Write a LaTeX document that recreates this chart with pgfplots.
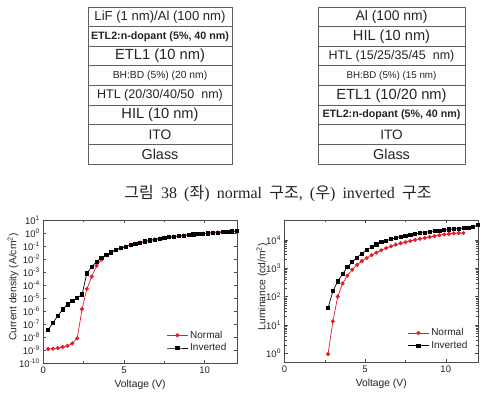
\documentclass[border=0pt]{standalone}
\usepackage{fontspec}
\setmainfont{Liberation Sans}
\newfontfamily\capserif{Liberation Serif}
\newfontfamily\cjk{Noto Sans CJK KR}
\usepackage{pgfplots}
\pgfplotsset{compat=1.18}
\definecolor{nred}{RGB}{232,28,36}
\definecolor{boxc}{RGB}{95,95,95}
\definecolor{txt}{RGB}{35,35,35}
\pgfplotsset{log number format basis/.code 2 args={#1\textsuperscript{\pgfmathprintnumber{#2}}}}
\pgfplotsset{myax/.style={
 scale only axis, anchor=south west,
 xmin=0, xmax=12, xtick={0,5,10}, minor xtick={2.5,7.5},
 axis line style={black!70, line width=0.6pt},
 tick style={black!70, line width=0.5pt},
 major tick length=3pt, minor tick length=2pt,
 ticklabel style={font=\fontsize{9.5}{11}\selectfont, text=txt},
 /pgf/number format/assume math mode=true,
 label style={font=\fontsize{10.3}{12}\selectfont, text=txt},
 xlabel={Voltage (V)},
 legend style={draw=none, fill=none, font=\fontsize{10}{12}\selectfont, anchor=north west, inner sep=0pt, row sep=0pt, cells={anchor=west}, text=txt},
 legend image code/.code={\draw[mark repeat=2,mark phase=2] plot coordinates {(0pt,0pt) (10.5pt,0pt) (21pt,0pt)};},
 every axis plot/.append style={line width=0.7pt},
}}
\newcommand\row[5]{%
 \draw[boxc, line width=0.8pt] (#1,{389-19.625*#3}) rectangle (#2,{389-19.625*(#3+1)});
 \node[txt, font=#4, inner sep=0pt] at ({(#1+#2)/2},{389-19.625*(#3+0.5)}) {#5};}

\begin{document}
\begin{tikzpicture}[x=1pt,y=1pt]
\path[use as bounding box] (0,0) rectangle (484,396);
% left stack
\row{88}{232}{0}{\fontsize{13.1}{15}\selectfont}{LiF (1 nm)/Al (100 nm)}
\row{88}{232}{1}{\fontsize{10.7}{12}\selectfont\bfseries}{ETL2:n-dopant (5\%, 40 nm)}
\row{88}{232}{2}{\fontsize{14.7}{16}\selectfont}{ETL1 (10 nm)}
\row{88}{232}{3}{\fontsize{10.3}{12}\selectfont\color{black!65}}{BH:BD (5\%) (20 nm)}
\row{88}{232}{4}{\fontsize{12.5}{14}\selectfont}{HTL (20/30/40/50 \ nm)}
\row{88}{232}{5}{\fontsize{14.6}{16}\selectfont}{HIL (10 nm)}
\row{88}{232}{6}{\fontsize{13.8}{16}\selectfont}{ITO}
\row{88}{232}{7}{\fontsize{14.4}{16}\selectfont}{Glass}
% right stack
\row{318}{465}{0}{\fontsize{13.9}{15}\selectfont}{Al (100 nm)}
\row{318}{465}{1}{\fontsize{14.6}{16}\selectfont}{HIL (10 nm)}
\row{318}{465}{2}{\fontsize{12.5}{14}\selectfont}{HTL (15/25/35/45 \ nm)}
\row{318}{465}{3}{\fontsize{9.8}{12}\selectfont\color{black!65}}{BH:BD (5\%) (15 nm)}
\row{318}{465}{4}{\fontsize{14.7}{16}\selectfont}{ETL1 (10/20 nm)}
\row{318}{465}{5}{\fontsize{10.7}{12}\selectfont\bfseries}{ETL2:n-dopant (5\%, 40 nm)}
\row{318}{465}{6}{\fontsize{13.6}{16}\selectfont}{ITO}
\row{318}{465}{7}{\fontsize{14.4}{16}\selectfont}{Glass}
% caption
\node[anchor=base, txt, font=\capserif\fontsize{16}{18}\selectfont, inner sep=0pt] at (278,197)
 {\spaceskip=0.45em\relax{\cjk 그림} 38 ({\cjk 좌}) normal {\cjk 구조}, ({\cjk 우}) inverted {\cjk 구조}};

\begin{semilogyaxis}[myax, at={(43.3pt,33pt)}, width=193.7pt, height=143pt,
 ymin=1e-10, ymax=10,
 ytick={1e-10,1e-9,1e-8,1e-7,1e-6,1e-5,1e-4,1e-3,1e-2,1e-1,1,10},
 yminorticks=false,
 ylabel={Current density (A/cm\textsuperscript{2})},
 ylabel style={at={(axis description cs:-0.156,0.53)}, anchor=center},
 legend style={at={(axis description cs:0.635,0.24)}}]
\addplot[nred, mark=*, mark size=1.7pt, mark options={fill=nred, draw=nred}] table {
x y
0.3 1.2e-9
0.6 1.25e-9
0.9 1.4e-9
1.2 1.7e-9
1.5 2.1e-9
1.8 3.2e-9
2.1 7.9e-9
2.4 1.4e-6
2.7 5e-5
3.0 4.4e-4
3.3 3.0e-3
3.6 9e-3
3.9 0.020
4.2 0.033
4.5 0.050
4.8 0.068
5.1 0.089
5.4 0.115
5.7 0.145
6.0 0.182
6.3 0.224
6.6 0.269
6.9 0.316
7.2 0.372
7.5 0.427
7.8 0.479
8.1 0.537
8.4 0.589
8.7 0.646
9.0 0.708
9.3 0.776
9.6 0.832
9.9 0.891
10.2 0.955
10.5 1.02
10.8 1.10
11.1 1.17
11.4 1.23
11.7 1.32
12.0 1.38
};
\addplot[black, mark=square*, mark size=1.6pt] table {
x y
0.3 3.5e-8
0.6 1.26e-7
0.9 4.2e-7
1.2 1.35e-6
1.5 3.2e-6
1.8 6.3e-6
2.1 1.0e-5
2.4 1.9e-5
2.7 8e-4
3.0 2.5e-3
3.3 6.3e-3
3.6 1.26e-2
3.9 0.021
4.2 0.033
4.5 0.050
4.8 0.068
5.1 0.089
5.4 0.115
5.7 0.145
6.0 0.182
6.3 0.224
6.6 0.269
6.9 0.316
7.2 0.372
7.5 0.427
7.8 0.479
8.1 0.537
8.4 0.589
8.7 0.646
9.0 0.708
9.3 0.776
9.6 0.832
9.9 0.891
10.2 0.955
10.5 1.02
10.8 1.10
11.1 1.17
11.4 1.23
11.7 1.32
12.0 1.38
};
\legend{Normal, Inverted}
\end{semilogyaxis}

\begin{semilogyaxis}[myax, at={(284.5pt,34pt)}, width=193.5pt, height=142pt,
 ymin=0.5, ymax=5e4,
 ytick={1,10,100,1000,10000},
 ylabel={Luminance (cd/m\textsuperscript{2})},
 ylabel style={at={(axis description cs:-0.116,0.53)}, anchor=center},
 legend style={at={(axis description cs:0.635,0.25)}}]
\addplot[nred, mark=*, mark size=1.7pt, mark options={fill=nred, draw=nred}] table {
x y
2.7 0.95
3.0 13.5
3.3 100
3.6 290
3.9 550
4.2 890
4.5 1320
4.8 1800
5.1 2300
5.4 2900
5.7 3550
6.0 4300
6.3 5100
6.6 5900
6.9 6800
7.2 7600
7.5 8300
7.8 9100
8.1 10000
8.4 10900
8.7 11700
9.0 12600
9.3 13500
9.6 14500
9.9 15500
10.2 16200
10.5 17000
10.8 17400
11.1 17400
};
\addplot[black, mark=square*, mark size=1.6pt] table {
x y
2.7 40
3.0 155
3.3 345
3.6 630
3.9 1100
4.2 1660
4.5 2400
4.8 3300
5.1 4470
5.4 5600
5.7 6900
6.0 8300
6.3 9300
6.6 10500
6.9 11700
7.2 12900
7.5 13800
7.8 15100
8.1 16200
8.4 17400
8.7 18200
9.0 19500
9.3 20400
9.6 21400
9.9 22400
10.2 23400
10.5 24000
10.8 25100
11.1 25700
11.4 26300
11.7 28200
12.0 33900
};
\legend{Normal, Inverted}
\end{semilogyaxis}
\end{tikzpicture}
\end{document}
